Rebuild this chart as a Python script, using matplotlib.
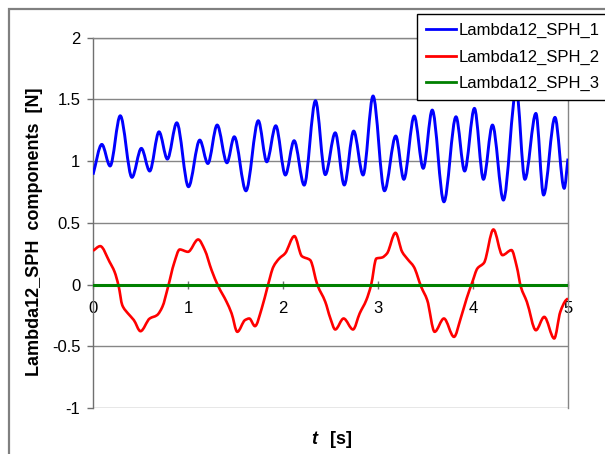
import matplotlib
matplotlib.use("Agg")
import matplotlib.pyplot as plt
from matplotlib.patches import Rectangle, PathPatch
from matplotlib.path import Path
from matplotlib.lines import Line2D

plt.rcParams['font.family'] = ['Liberation Sans', 'DejaVu Sans']

# ---- data ----
t1 = [0.0, 0.093, 0.18, 0.287, 0.41, 0.509, 0.597, 0.695, 0.783, 0.882, 1.005, 1.124,
      1.209, 1.307, 1.41, 1.487, 1.61, 1.74, 1.829, 1.924, 2.025, 2.117, 2.223, 2.342,
      2.445, 2.55, 2.645, 2.744, 2.843, 2.948, 3.068, 3.187, 3.272, 3.381, 3.476, 3.571,
      3.694, 3.821, 3.912, 4.015, 4.11, 4.205, 4.32, 4.456, 4.546, 4.662, 4.743, 4.863,
      4.96, 5.0]
v1 = [0.89, 1.135, 0.96, 1.367, 0.868, 1.103, 0.919, 1.237, 1.016, 1.31, 0.792, 1.17,
      0.98, 1.292, 0.986, 1.197, 0.759, 1.327, 0.994, 1.286, 0.887, 1.165, 0.805, 1.489,
      0.89, 1.229, 0.806, 1.243, 0.887, 1.527, 0.759, 1.203, 0.852, 1.365, 0.941, 1.413,
      0.67, 1.359, 0.919, 1.427, 0.852, 1.292, 0.684, 1.58, 0.852, 1.386, 0.725, 1.354,
      0.779, 1.02]

t2 = [0.0, 0.076, 0.174, 0.227, 0.27, 0.308, 0.368, 0.43, 0.5, 0.597, 0.674, 0.73, 0.79,
      0.853, 0.913, 1.0, 1.107, 1.177, 1.248, 1.318, 1.406, 1.459, 1.519, 1.6, 1.645,
      1.705, 1.776, 1.839, 1.899, 1.962, 2.022, 2.12, 2.198, 2.286, 2.363, 2.445, 2.497,
      2.55, 2.638, 2.737, 2.807, 2.877, 2.927, 2.983, 3.043, 3.095, 3.184, 3.254, 3.314,
      3.377, 3.455, 3.518, 3.596, 3.694, 3.8, 3.87, 3.933, 3.994, 4.046, 4.116, 4.215,
      4.31, 4.405, 4.461, 4.504, 4.567, 4.662, 4.75, 4.855, 4.919, 4.979, 5.0]
v2 = [0.273, 0.311, 0.184, 0.103, -0.013, -0.167, -0.234, -0.288, -0.378, -0.275, -0.248,
      -0.181, -0.019, 0.171, 0.284, 0.265, 0.365, 0.279, 0.117, -0.013, -0.14, -0.234,
      -0.383, -0.288, -0.275, -0.337, -0.194, -0.013, 0.144, 0.212, 0.252, 0.392, 0.23,
      0.198, -0.005, -0.14, -0.27, -0.364, -0.275, -0.364, -0.234, -0.126, -0.005, 0.211,
      0.219, 0.252, 0.419, 0.265, 0.203, 0.144, -0.019, -0.126, -0.383, -0.275, -0.424,
      -0.275, -0.113, 0.022, 0.13, 0.176, 0.446, 0.238, 0.279, 0.144, -0.019, -0.14,
      -0.37, -0.262, -0.437, -0.221, -0.126, -0.113]

t3 = [0.0, 5.0]
v3 = [0.0, 0.0]

labels = ["Lambda12_SPH_1", "Lambda12_SPH_2", "Lambda12_SPH_3"]
colors = ['#0000ff', '#ff0000', '#008000']
xticks = [0, 1, 2, 3, 4, 5]
yticks = [-1, -0.5, 0, 0.5, 1, 1.5, 2]
ytick_labels = ["-1", "-0.5", "0", "0.5", "1", "1.5", "2"]


def smooth_path(x, y):
    """Monotone cubic (PCHIP-style) curve through the points, as Bezier segments."""
    n = len(x)
    d = [(y[i + 1] - y[i]) / (x[i + 1] - x[i]) for i in range(n - 1)]
    m = [0.0] * n
    m[0], m[-1] = d[0], d[-1]
    for i in range(1, n - 1):
        if d[i - 1] * d[i] <= 0:
            m[i] = 0.0
        else:
            h0 = x[i] - x[i - 1]
            h1 = x[i + 1] - x[i]
            w1, w2 = 2 * h1 + h0, h1 + 2 * h0
            m[i] = (w1 + w2) / (w1 / d[i - 1] + w2 / d[i])
    verts = [(x[0], y[0])]
    codes = [Path.MOVETO]
    for i in range(n - 1):
        h = x[i + 1] - x[i]
        verts += [(x[i] + h / 3, y[i] + m[i] * h / 3),
                  (x[i + 1] - h / 3, y[i + 1] - m[i + 1] * h / 3),
                  (x[i + 1], y[i + 1])]
        codes += [Path.CURVE4] * 3
    return Path(verts, codes)


W, H = 605, 454
fig = plt.figure(figsize=(W / 100, H / 100), dpi=100)
ax = fig.add_axes([93 / W, 1 - 408 / H, (568 - 93) / W, (408 - 37.6) / H])

gray = '#868686'
ax.add_patch(PathPatch(smooth_path(t1, v1), fill=False, edgecolor=colors[0], lw=2.1,
                       joinstyle='round', zorder=3))
ax.add_patch(PathPatch(smooth_path(t2, v2), fill=False, edgecolor=colors[1], lw=1.9,
                       joinstyle='round', zorder=3))
ax.plot(t3, v3, color=colors[2], lw=2.2, zorder=4)

ax.set_xlim(0, 5)
ax.set_ylim(-1, 2)
ax.set_yticks(yticks)
ax.set_yticklabels(ytick_labels)
ax.set_xticks(xticks)
ax.set_xticklabels([str(x) for x in xticks])

ax.yaxis.grid(True, color=gray, lw=1.0)
ax.set_axisbelow(True)

ax.spines['bottom'].set_position(('data', 0))
for s in ['left', 'right', 'top', 'bottom']:
    ax.spines[s].set_color(gray)
    ax.spines[s].set_linewidth(1.0)
ax.spines['left'].set_color('#707070')

ax.tick_params(axis='y', direction='out', length=4, width=1, color='#707070',
               labelsize=12, pad=5)
ax.tick_params(axis='x', direction='inout', length=6, width=1, color='#707070',
               labelsize=12, pad=9)

handles = [Line2D([], [], color=c, lw=2.0) for c in colors]
leg = ax.legend(handles, labels, loc='upper left', bbox_to_anchor=(417 / W, 1 - 14 / H),
                bbox_transform=fig.transFigure, borderaxespad=0, fontsize=12,
                frameon=True, fancybox=False, edgecolor='black', framealpha=1,
                handlelength=1.8, handletextpad=0.15, borderpad=0.55,
                labelspacing=0.68)
leg.get_frame().set_linewidth(1.0)
leg.set_zorder(10)

# outer chart-area border
fig.patches.append(Rectangle((9 / W, -0.2), 1.2, 1 - 9 / H + 0.2,
                             transform=fig.transFigure, fill=False,
                             edgecolor='#808080', lw=1.6))

fig.text(35 / W, 1 - 232 / H, "Lambda12_SPH  components  [N]", rotation=90,
         ha='center', va='center', fontsize=13, fontweight='bold')
fig.text(314 / W, 1 - 440 / H, "t", ha='center', va='center', fontsize=13,
         fontweight='bold', style='italic')
fig.text(330 / W, 1 - 440 / H, "[s]", ha='left', va='center', fontsize=13,
         fontweight='bold')

fig.savefig("out.png", dpi=100)
